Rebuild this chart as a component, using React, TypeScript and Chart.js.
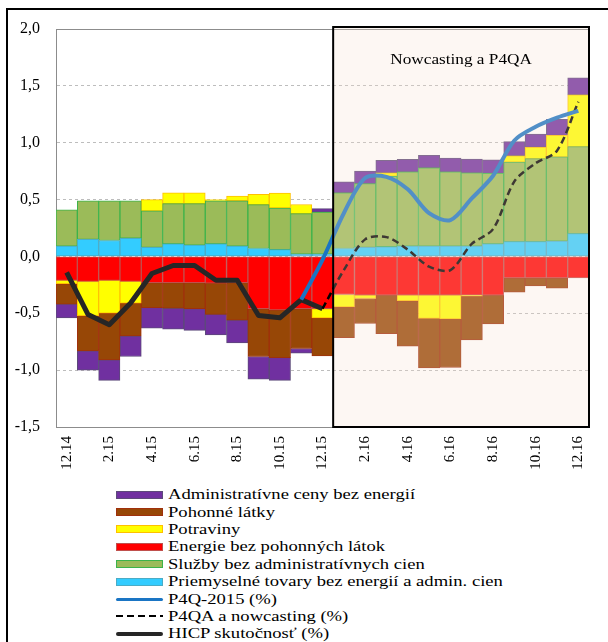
import React, { useEffect, useRef } from "react";
import { Chart, registerables } from "chart.js";

Chart.register(...registerables);

const categories = ["12.14","1.15","2.15","3.15","4.15","5.15","6.15","7.15","8.15","9.15","10.15","11.15","12.15","1.16","2.16","3.16","4.16","5.16","6.16","7.16","8.16","9.16","10.16","11.16","12.16"];
const nowcastStartLabel = "1.16";
const nowcastTitle = "Nowcasting a P4QA";
const yTicks = [-1.5, -1.0, -0.5, 0, 0.5, 1.0, 1.5, 2.0];

const industrialGoods = [0.09,0.15,0.14,0.16,0.08,0.11,0.10,0.11,0.09,0.07,0.06,0.02,0.02,0.07,0.08,0.085,0.09,0.09,0.09,0.09,0.11,0.13,0.13,0.135,0.20];
const energyExFuel = [-0.21,-0.22,-0.21,-0.22,-0.23,-0.23,-0.23,-0.235,-0.23,-0.46,-0.47,-0.46,-0.46,-0.335,-0.34,-0.34,-0.34,-0.34,-0.34,-0.34,-0.34,-0.19,-0.19,-0.19,-0.19];
const services = [0.32,0.34,0.35,0.33,0.32,0.355,0.365,0.38,0.40,0.386,0.366,0.357,0.37,0.49,0.56,0.62,0.654,0.69,0.654,0.645,0.62,0.70,0.73,0.74,0.765];
const food = [-0.03,-0.30,-0.29,-0.19,0.10,0.095,0.095,0.01,0.04,0.09,0.13,0.08,-0.08,-0.11,-0.03,0.03,-0.05,-0.205,-0.21,-0.01,0,0.055,0.10,0.19,0.455];
const fuels = [-0.18,-0.31,-0.41,-0.29,-0.22,-0.226,-0.23,-0.275,-0.33,-0.42,-0.42,-0.35,-0.335,-0.27,-0.22,-0.34,-0.40,-0.435,-0.427,-0.385,-0.254,-0.125,-0.07,-0.09,0];
const adminPrices = [-0.12,-0.17,-0.18,-0.18,-0.18,-0.184,-0.19,-0.18,-0.20,-0.20,-0.20,-0.04,0.03,0.095,0.11,0.11,0.11,0.11,0.12,0.12,0.12,0.125,0.117,0.14,0.15];

const p4q2015 = [null,null,null,null,null,null,null,null,null,null,null,-0.38,-0.03,0.38,0.69,0.70,0.59,0.38,0.32,0.51,0.71,1.02,1.14,1.22,1.28];
const p4qaNowcast = [null,null,null,null,null,null,null,null,null,null,null,null,-0.46,-0.12,0.15,0.17,0.06,-0.09,-0.12,0.11,0.24,0.66,0.82,0.93,1.36];
const hicpActual = [-0.14,-0.51,-0.60,-0.41,-0.15,-0.08,-0.08,-0.21,-0.21,-0.52,-0.54,-0.38,-0.46,null,null,null,null,null,null,null,null,null,null,null,null];

const SERIF = '"Liberation Serif", "Times New Roman", serif';

const barSeries = [
  { label: "Priemyselné tovary bez energií a admin. cien", data: industrialGoods, color: "#33CCFF", border: "#4BACC6" },
  { label: "Energie bez pohonných látok", data: energyExFuel, color: "#FF0000", border: "#C0504D" },
  { label: "Služby bez administratívnych cien", data: services, color: "#9BBB59", border: "#3CB34A" },
  { label: "Potraviny", data: food, color: "#FFFF00", border: "#FFC000" },
  { label: "Pohonné látky", data: fuels, color: "#974706", border: "#A0300C" },
  { label: "Administratívne ceny bez energií", data: adminPrices, color: "#7030A0", border: "#5C4A7A" },
];

const lineSeries = [
  { label: "P4Q-2015 (%)", data: p4q2015, color: "#1A75C4", width: 4, dash: [] as number[], tension: 0.3 },
  { label: "P4QA a nowcasting (%)", data: p4qaNowcast, color: "#000000", width: 2.5, dash: [7, 4], tension: 0.3 },
  { label: "HICP skutočnosť (%)", data: hicpActual, color: "#262626", width: 5, dash: [] as number[], tension: 0 },
];

const legendItems = [
  { label: "Administratívne ceny bez energií", kind: "box", color: "#7030A0", border: "#5C4A7A" },
  { label: "Pohonné látky", kind: "box", color: "#974706", border: "#A0300C" },
  { label: "Potraviny", kind: "box", color: "#FFFF00", border: "#FFC000" },
  { label: "Energie bez pohonných látok", kind: "box", color: "#FF0000", border: "#C0504D" },
  { label: "Služby bez administratívnych cien", kind: "box", color: "#9BBB59", border: "#3CB34A" },
  { label: "Priemyselné tovary bez energií a admin. cien", kind: "box", color: "#33CCFF", border: "#4BACC6" },
  { label: "P4Q-2015 (%)", kind: "line", color: "#1A75C4", width: 3, dashed: false },
  { label: "P4QA a nowcasting (%)", kind: "line", color: "#000000", width: 2, dashed: true },
  { label: "HICP skutočnosť (%)", kind: "line", color: "#262626", width: 4, dashed: false },
];

const nowcastPlugin = {
  id: "nowcastBox",
  afterDatasetsDraw(chart: any) {
    const { ctx, chartArea, scales } = chart;
    const xs = scales.x;
    const idx = categories.indexOf(nowcastStartLabel);
    const left = (xs.getPixelForValue(idx - 1) + xs.getPixelForValue(idx)) / 2;
    const right = chartArea.right;
    const top = chartArea.top - 2;
    const bottom = chartArea.bottom;
    ctx.save();
    ctx.fillStyle = "rgba(247,223,207,0.25)";
    ctx.fillRect(left, top, right - left, bottom - top);
    ctx.strokeStyle = "#000";
    ctx.lineWidth = 2;
    ctx.strokeRect(left, top, right - left, bottom - top);
    ctx.fillStyle = "#000";
    ctx.font = "14px " + SERIF;
    ctx.textAlign = "center";
    ctx.textBaseline = "middle";
    ctx.translate((left + right) / 2, top + 33);
    ctx.scale(1.23, 1);
    ctx.fillText(nowcastTitle, 0, 0);
    ctx.restore();
  },
};

export default function App() {
  const ref = useRef<HTMLCanvasElement | null>(null);

  useEffect(() => {
    if (!ref.current) return;
    const datasets: any[] = [
      ...barSeries.map((s) => ({
        type: "bar",
        label: s.label,
        data: s.data,
        backgroundColor: s.color,
        borderColor: s.border,
        borderWidth: 1,
        borderSkipped: false,
        stack: "bars",
        order: 1,
        barPercentage: 1,
        categoryPercentage: 1,
      })),
      ...lineSeries.map((s, i) => ({
        type: "line",
        label: s.label,
        data: s.data,
        borderColor: s.color,
        backgroundColor: s.color,
        borderWidth: s.width,
        borderDash: s.dash,
        tension: s.tension,
        pointRadius: 0,
        fill: false,
        spanGaps: false,
        stack: "line" + i,
        order: 0,
        borderJoinStyle: "round",
        borderCapStyle: "butt",
      })),
    ];

    const chart = new Chart(ref.current, {
      type: "bar",
      data: { labels: categories, datasets },
      options: {
        animation: false,
        responsive: false,
        maintainAspectRatio: false,
        layout: { padding: { top: 29, right: 19, left: 0, bottom: 0 } },
        plugins: { legend: { display: false }, tooltip: { enabled: false } },
        scales: {
          x: {
            type: "category",
            stacked: true,
            offset: true,
            grid: { display: false, drawTicks: false },
            border: { display: true, color: "#8c8c8c", width: 1 },
            ticks: {
              autoSkip: false,
              maxRotation: 90,
              minRotation: 90,
              padding: 9,
              color: "#000",
              font: { family: SERIF, size: 15 },
              callback: (_v: any, i: number) => (i % 2 === 0 ? categories[i] : ""),
            },
            afterFit: (s: any) => { s.height = 53; },
          },
          x2: {
            type: "category",
            position: "top",
            offset: true,
            grid: { display: false, drawTicks: false },
            border: { display: true, color: "#8c8c8c", width: 1 },
            ticks: { display: false },
            afterFit: (s: any) => { s.height = 0; },
          },
          y: {
            stacked: true,
            min: yTicks[0],
            max: yTicks[yTicks.length - 1],
            afterBuildTicks: (s: any) => { s.ticks = yTicks.map((v) => ({ value: v })); },
            grid: {
              drawTicks: false,
              color: (c: any) => {
                const v = c.tick ? c.tick.value : 0;
                return v === yTicks[0] || v === yTicks[yTicks.length - 1] ? "rgba(0,0,0,0)" : "#bdbdbd";
              },
              lineWidth: 1,
            },
            border: { display: true, color: "#8c8c8c", width: 1, dash: [3, 3] },
            ticks: {
              padding: 16,
              color: "#000",
              font: { family: SERIF, size: 16 },
              callback: (v: any) => Number(v).toFixed(1).replace(".", ","),
            },
            afterFit: (s: any) => { s.width = 56; },
          },
        },
      } as any,
      plugins: [nowcastPlugin],
    });
    return () => chart.destroy();
  }, []);

  return (
    <div style={{ position: "absolute", left: 0, top: 0, width: 608, height: 642, overflow: "hidden", background: "#fff" }}>
      <div style={{ position: "absolute", left: 6, top: 8, width: 610, height: 640, borderLeft: "2px solid #000", borderTop: "2px solid #000" }} />
      <canvas ref={ref} width={608} height={480} style={{ position: "absolute", left: 0, top: 0, width: 608, height: 480 }} />
      <div style={{ position: "absolute", left: 116, top: 486, fontFamily: SERIF, fontSize: 15, color: "#000" }}>
        {legendItems.map((it) => (
          <div key={it.label} style={{ display: "flex", alignItems: "center", height: 17.4, whiteSpace: "nowrap" }}>
            {it.kind === "box" ? (
              <div style={{ width: 47, height: 8, boxSizing: "border-box", background: it.color, border: `1px solid ${it.border}` }} />
            ) : it.dashed ? (
              <div style={{ width: 47, height: it.width, background: `repeating-linear-gradient(to right, ${it.color} 0px, ${it.color} 7px, transparent 7px, transparent 11px)` }} />
            ) : (
              <div style={{ width: 47, height: it.width, background: it.color, borderRadius: it.width / 2 }} />
            )}
            <span style={{ display: "inline-block", marginLeft: 5, transform: "scaleX(1.24)", transformOrigin: "left center", lineHeight: "17px" }}>{it.label}</span>
          </div>
        ))}
      </div>
    </div>
  );
}
